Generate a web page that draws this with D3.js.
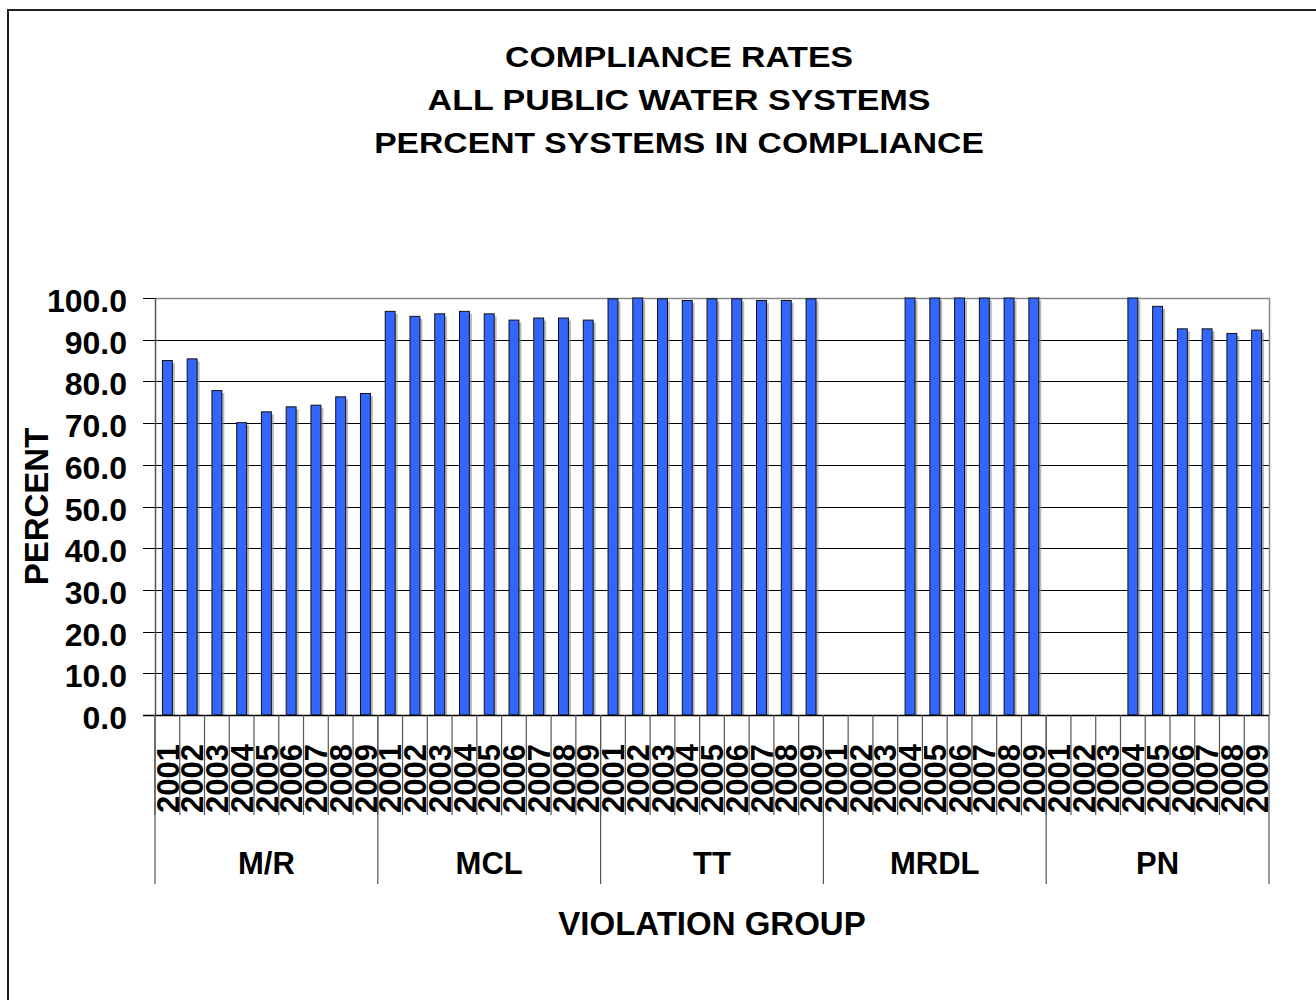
<!DOCTYPE html>
<meta charset="utf-8">
<script type="text/javascript" src="https://cdn.jsdelivr.net/npm/d3@7"></script>
<style>

body {
  margin: 0;
  background: #fff;
}

text {
  fill: #000;
  font-family: Arial, "Liberation Sans", sans-serif;
  font-weight: bold;
}

rect.bar {
  fill: #3366ff;
  stroke: #111;
  stroke-width: 1px;
}

rect.shadow {
  fill: #8a8a8a;
  opacity: 0.6;
}

line.grid {
  stroke: #000;
  stroke-width: 1px;
}

line.sep {
  stroke: #555;
  stroke-width: 1.2px;
}

</style>
<html><head><title></title></head><body>
<script>

var titleLines = ["COMPLIANCE RATES", "ALL PUBLIC WATER SYSTEMS", "PERCENT SYSTEMS IN COMPLIANCE"];
var groups = ["M/R", "MCL", "TT", "MRDL", "PN"];
var years = ["2001", "2002", "2003", "2004", "2005", "2006", "2007", "2008", "2009"];
var yTicks = [0, 10, 20, 30, 40, 50, 60, 70, 80, 90, 100];

// percent in compliance, null = no data for that year
var mrValues   = [85.0, 85.4, 77.8, 70.1, 72.7, 73.9, 74.3, 76.3, 77.1];
var mclValues  = [96.8, 95.6, 96.2, 96.8, 96.2, 94.7, 95.2, 95.2, 94.7];
var ttValues   = [99.8, 100.0, 99.8, 99.4, 99.8, 99.8, 99.4, 99.4, 99.8];
var mrdlValues = [null, null, null, 100.0, 100.0, 100.0, 100.0, 100.0, 100.0];
var pnValues   = [null, null, null, 100.0, 98.0, 92.6, 92.6, 91.5, 92.3];

var seriesByGroup = [mrValues, mclValues, ttValues, mrdlValues, pnValues];

var data = [];
groups.forEach(function(g, i) {
  years.forEach(function(y, j) {
    data.push({group: g, year: y, value: seriesByGroup[i][j]});
  });
});

var width = 1316,
    height = 1000;

var plot = {left: 155, right: 1269, top: 298, bottom: 715};

var svg = d3.select("body").append("svg")
    .attr("width", width)
    .attr("height", height);

// outer frame
svg.append("rect")
    .attr("x", 8)
    .attr("y", 10)
    .attr("width", 1400)
    .attr("height", 1100)
    .style("fill", "none")
    .style("stroke", "#222")
    .style("stroke-width", 2);

var x0 = d3.scaleBand()
    .domain(groups)
    .range([plot.left, plot.right]);

var x1 = d3.scaleBand()
    .domain(years)
    .range([0, x0.bandwidth()])
    .paddingInner(0.6)
    .paddingOuter(0.3);

var y = d3.scaleLinear()
    .domain([0, 100])
    .range([plot.bottom, plot.top]);

// title: the original glyphs are a bit wider than Arial, so stretch each line
var titleWidths = [348, 503, 610];

svg.append("g").selectAll("text")
    .data(titleLines)
    .enter().append("text")
    .attr("text-anchor", "middle")
    .style("font-size", "30px")
    .text(function(d) { return d; })
    .attr("transform", function(d, i) {
        var sx = titleWidths[i] / this.getComputedTextLength();
        return "translate(679," + (67 + i * 43) + ") scale(" + sx + ",1)";
    });

// gridlines + tick marks
svg.append("g").selectAll("line")
    .data(yTicks)
    .enter().append("line")
    .attr("class", "grid")
    .attr("x1", plot.left - 12)
    .attr("x2", plot.right)
    .attr("y1", function(d) { return Math.round(y(d)) + 0.5; })
    .attr("y2", function(d) { return Math.round(y(d)) + 0.5; });

// plot area border (top and right) in grey
svg.append("path")
    .attr("d", "M" + plot.left + "," + (plot.top + 0.5) + "H" + (plot.right + 0.5) + "V" + plot.bottom)
    .style("fill", "none")
    .style("stroke", "#888")
    .style("stroke-width", 1.5);

// y tick labels
svg.append("g").selectAll("text")
    .data(yTicks)
    .enter().append("text")
    .attr("x", 127)
    .attr("y", function(d) { return y(d); })
    .attr("dy", "0.44em")
    .attr("text-anchor", "end")
    .style("font-size", "32px")
    .text(function(d) { return d3.format(".1f")(d); });

// bars
var bars = data.filter(function(d) { return d.value != null; });

svg.append("g").selectAll("rect")
    .data(bars)
    .enter().append("rect")
    .attr("class", "shadow")
    .attr("x", function(d) { return x0(d.group) + x1(d.year) + 2.5; })
    .attr("y", function(d) { return y(d.value) + 2.5; })
    .attr("width", x1.bandwidth())
    .attr("height", function(d) { return plot.bottom - y(d.value) - 2.5; });

svg.append("g").selectAll("rect")
    .data(bars)
    .enter().append("rect")
    .attr("class", "bar")
    .attr("x", function(d) { return x0(d.group) + x1(d.year); })
    .attr("y", function(d) { return y(d.value); })
    .attr("width", x1.bandwidth())
    .attr("height", function(d) { return plot.bottom - y(d.value); });

// y axis line
svg.append("line")
    .attr("x1", plot.left + 0.5)
    .attr("x2", plot.left + 0.5)
    .attr("y1", plot.top)
    .attr("y2", plot.bottom)
    .style("stroke", "#555")
    .style("stroke-width", 1.5);

// x axis line
svg.append("line")
    .attr("x1", plot.left - 12)
    .attr("x2", plot.right)
    .attr("y1", plot.bottom + 0.5)
    .attr("y2", plot.bottom + 0.5)
    .style("stroke", "#000")
    .style("stroke-width", 1.5);

// separators between years (left edge of each year slot)
var halfGap = (x1.step() - x1.bandwidth()) / 2;

svg.append("g").selectAll("line")
    .data(data)
    .enter().append("line")
    .attr("class", "sep")
    .attr("x1", function(d) { return x0(d.group) + x1(d.year) - halfGap; })
    .attr("x2", function(d) { return x0(d.group) + x1(d.year) - halfGap; })
    .attr("y1", plot.bottom)
    .attr("y2", 815);

// separators between groups
svg.append("g").selectAll("line")
    .data(groups.concat(["end"]))
    .enter().append("line")
    .attr("class", "sep")
    .attr("x1", function(d) { return d == "end" ? plot.right : x0(d); })
    .attr("x2", function(d) { return d == "end" ? plot.right : x0(d); })
    .attr("y1", plot.bottom)
    .attr("y2", 884);

// year labels, rotated
svg.append("g").selectAll("text")
    .data(data)
    .enter().append("text")
    .attr("transform", function(d) {
        var cx = x0(d.group) + x1(d.year) + x1.bandwidth() / 2;
        return "translate(" + cx + ",744) rotate(-90)";
    })
    .attr("dy", "0.36em")
    .attr("text-anchor", "end")
    .style("font-size", "31px")
    .text(function(d) { return d.year; });

// group labels
svg.append("g").selectAll("text")
    .data(groups)
    .enter().append("text")
    .attr("x", function(d) { return x0(d) + x0.bandwidth() / 2; })
    .attr("y", 874)
    .attr("text-anchor", "middle")
    .style("font-size", "31px")
    .text(function(d) { return d; });

// axis titles
svg.append("text")
    .attr("x", (plot.left + plot.right) / 2)
    .attr("y", 935)
    .attr("text-anchor", "middle")
    .style("font-size", "33px")
    .text("VIOLATION GROUP");

svg.append("text")
    .attr("transform", "translate(48," + ((plot.top + plot.bottom) / 2) + ") rotate(-90)")
    .attr("text-anchor", "middle")
    .style("font-size", "33px")
    .text("PERCENT");

</script>
</body>
</html>
